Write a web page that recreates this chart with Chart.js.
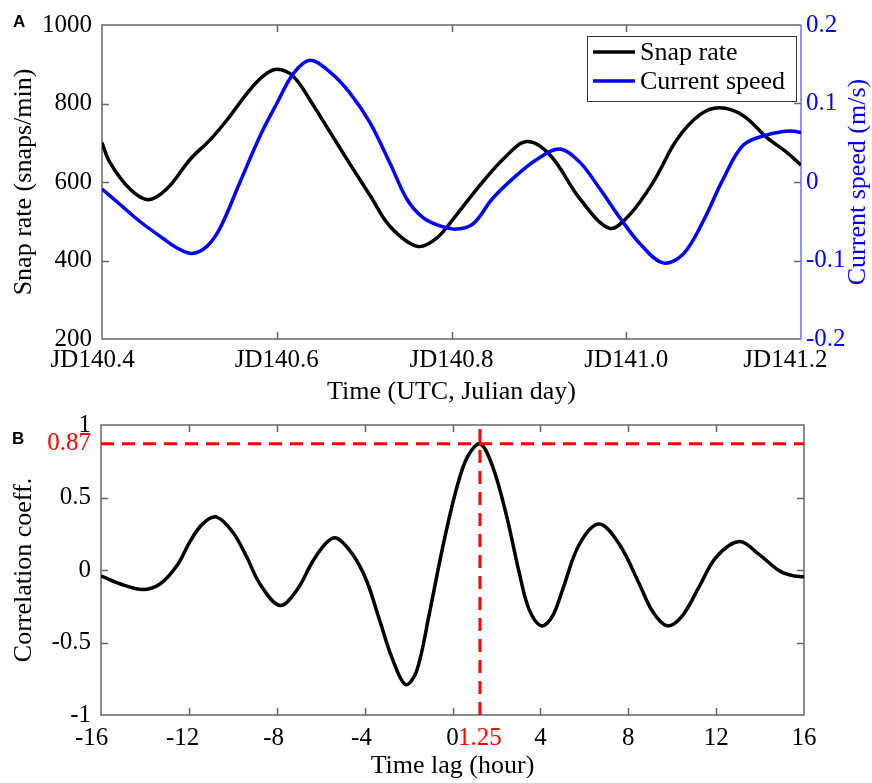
<!DOCTYPE html>
<html>
<head>
<meta charset="utf-8">
<title>Snap rate vs current speed</title>
<script src="https://cdn.jsdelivr.net/npm/chart.js@4.4.1/dist/chart.umd.min.js"></script>
<style>
  html, body { margin: 0; padding: 0; background: #fff; }
  #wrap { position: relative; width: 872px; height: 783px; overflow: hidden; }
  canvas { position: absolute; left: 0; }
  #chart-a { top: 0; }
  #chart-b { top: 400px; }
  .tag { position: absolute; font: bold 17px "Liberation Sans", Arial, sans-serif; line-height: 17px; }
</style>
</head>
<body>
<div id="wrap">
  <canvas id="chart-a" width="872" height="410"></canvas>
  <canvas id="chart-b" width="872" height="383"></canvas>
  <div class="tag" style="left:13px; top:13px;">A</div>
  <div class="tag" style="left:12px; top:430px;">B</div>
</div>
<script>
"use strict";
{
  // panel A : snap rate (left axis) and current speed (right axis)
  const TIME_SNAP = [
    140.400, 140.409, 140.432, 140.453, 140.474, 140.501, 140.524, 140.543,
    140.566, 140.584, 140.600, 140.619, 140.638, 140.661, 140.684, 140.707,
    140.730, 140.761, 140.783, 140.806, 140.829, 140.859, 140.886, 140.913,
    140.947, 140.981, 141.004, 141.031, 141.058, 141.084, 141.107, 141.134,
    141.161, 141.184, 141.200,
  ];
  const SNAP_RATE = [
    700, 650, 582, 555, 582, 658, 708, 758,
    826, 869, 887, 869, 809, 727, 645, 565,
    486, 436, 457, 517, 582, 658, 703, 668,
    557, 482, 517, 600, 708, 771, 789, 769,
    713, 675, 643,
  ];
  const TIME_CURRENT = [
    140.400, 140.421, 140.443, 140.470, 140.486, 140.503, 140.520, 140.535,
    140.558, 140.581, 140.600, 140.619, 140.638, 140.661, 140.684, 140.707,
    140.730, 140.749, 140.767, 140.787, 140.806, 140.825, 140.847, 140.875,
    140.898, 140.924, 140.947, 140.970, 140.993, 141.016, 141.042, 141.065,
    141.088, 141.111, 141.134, 141.161, 141.187, 141.200,
  ];
  const CURRENT_SPEED = [
    -0.009, -0.029, -0.050, -0.072, -0.084, -0.091, -0.082, -0.059,
    0.000, 0.059, 0.100, 0.138, 0.155, 0.140, 0.113, 0.075,
    0.023, -0.022, -0.045, -0.056, -0.060, -0.053, -0.021, 0.009,
    0.029, 0.042, 0.025, -0.009, -0.046, -0.079, -0.103, -0.092,
    -0.050, 0.004, 0.047, 0.060, 0.065, 0.063,
  ];
  const X_TICKS_A = [140.4, 140.6, 140.8, 141.0, 141.2];
  const Y_TICKS_SNAP = [200, 400, 600, 800, 1000];
  const Y_TICKS_CURRENT = [-0.2, -0.1, 0, 0.1, 0.2];

  // panel B : cross correlation
  const LAG_HOURS = [
    -16.00, -15.14, -14.10, -13.30, -12.50, -11.95, -11.36, -10.73,
    -10.00, -9.36, -8.77, -7.86, -7.09, -6.36, -5.73, -5.27,
    -4.55, -3.91, -3.32, -2.73, -2.14, -1.64, -1.05, -0.45,
    0.18, 0.68, 1.25, 1.82, 2.45, 3.05, 3.50, 4.05,
    4.55, 5.00, 5.77, 6.68, 7.60, 8.50, 9.10, 9.77,
    10.45, 11.23, 12.00, 13.05, 13.95, 14.86, 15.40, 16.00,
  ];
  const CORRELATION = [
    -0.040, -0.095, -0.135, -0.095, 0.040, 0.196, 0.320, 0.365,
    0.260, 0.088, -0.095, -0.245, -0.140, 0.060, 0.190, 0.220,
    0.108, -0.074, -0.345, -0.615, -0.790, -0.700, -0.297, 0.155,
    0.560, 0.780, 0.870, 0.716, 0.380, -0.027, -0.277, -0.385,
    -0.318, -0.140, 0.176, 0.317, 0.176, -0.095, -0.284, -0.385,
    -0.318, -0.115, 0.088, 0.196, 0.108, -0.004, -0.036, -0.047,
  ];
  const PEAK_LAG = 1.25;
  const PEAK_CORR = 0.87;
  const X_TICKS_B = [-16, -12, -8, -4, 0, 4, 8, 12, 16];
  const Y_TICKS_B = [-1, -0.5, 0, 0.5, 1];

  const SERIF = "'Liberation Serif', 'Times New Roman', serif";
  const AXIS_GRAY = "#666666";
  const RIGHT_BLUE = "#6f6fff";
  const RED = "#ff0000";
  const TICK_LEN = 7;

  const toPoints = (xs, ys) => xs.map((x, i) => ({ x: x, y: ys[i] }));

  const tickFont = { family: SERIF, size: 25 };
  const titleFont = { family: SERIF, size: 26, lineHeight: 1.2 };

  // 元図のラベルは少し左寄り、末尾に空白を足してずらす
  const padRight = (s, n) => s + " ".repeat(n);
  const labelA = (v) => {
    const s = "JD" + Number(v).toFixed(1);
    if (v === X_TICKS_A[0]) return padRight(s, 3);
    if (v === X_TICKS_A[X_TICKS_A.length - 1]) return padRight(s, 5);
    return s;
  };
  const labelB = (v) => {
    const s = String(v);
    if (v <= -16) return padRight(s, 3);
    if (v <= -12) return padRight(s, 2);
    if (v < 0) return padRight(s, 1);
    return s;
  };

  // 枠と内向きの目盛り
  function drawInwardTicks(ctx, area, scale, values, side) {
    values.forEach((v) => {
      const p = Math.round(scale.getPixelForValue(v)) + 0.5;
      if (side === "bottom" || side === "top") {
        if (p <= area.left + 1 || p >= area.right - 1) return;
        const y = side === "bottom" ? area.bottom : area.top;
        ctx.moveTo(p, y);
        ctx.lineTo(p, side === "bottom" ? y - TICK_LEN : y + TICK_LEN);
      } else {
        if (p <= area.top + 1 || p >= area.bottom - 1) return;
        const x = side === "left" ? area.left : area.right;
        ctx.moveTo(x, p);
        ctx.lineTo(side === "left" ? x + TICK_LEN : x - TICK_LEN, p);
      }
    });
  }

  const frameA = {
    id: "frameA",
    beforeDatasetsDraw(chart) {
      const { ctx, chartArea: a, scales } = chart;
      ctx.save();
      ctx.lineWidth = 1.5;
      ctx.strokeStyle = AXIS_GRAY;
      ctx.beginPath();
      ctx.moveTo(a.right, a.top);
      ctx.lineTo(a.left, a.top);
      ctx.lineTo(a.left, a.bottom);
      ctx.lineTo(a.right, a.bottom);
      drawInwardTicks(ctx, a, scales.x, X_TICKS_A, "bottom");
      drawInwardTicks(ctx, a, scales.x, X_TICKS_A, "top");
      drawInwardTicks(ctx, a, scales.y, Y_TICKS_SNAP, "left");
      drawInwardTicks(ctx, a, scales.y2, Y_TICKS_CURRENT, "right");
      ctx.stroke();
      ctx.strokeStyle = RIGHT_BLUE;
      ctx.beginPath();
      ctx.moveTo(a.right, a.top);
      ctx.lineTo(a.right, a.bottom);
      ctx.stroke();
      ctx.restore();
    },
    afterDraw(chart) {
      const { ctx, chartArea: a } = chart;
      ctx.save();
      // 右軸タイトル（下から上へ読む）
      ctx.translate(a.right + 57, (a.top + a.bottom) / 2);
      ctx.rotate(-Math.PI / 2);
      ctx.font = "26px " + SERIF;
      ctx.fillStyle = "#0000ff";
      ctx.textAlign = "center";
      ctx.textBaseline = "middle";
      ctx.fillText("Current speed (m/s)", 0, 0);
      ctx.restore();

      // legend box
      const box = { left: a.right - 214, top: a.top + 11, width: 209, height: 65 };
      ctx.save();
      ctx.fillStyle = "#fff";
      ctx.fillRect(box.left, box.top, box.width, box.height);
      ctx.strokeStyle = "#333";
      ctx.lineWidth = 1;
      ctx.strokeRect(box.left + 0.5, box.top + 0.5, box.width, box.height);
      ctx.font = "26px " + SERIF;
      ctx.textBaseline = "middle";
      ctx.fillStyle = "#000";
      chart.data.datasets.forEach((ds, i) => {
        const y = box.top + 16 + i * 29;
        ctx.strokeStyle = ds.borderColor;
        ctx.lineWidth = 3.5;
        ctx.beginPath();
        ctx.moveTo(box.left + 6, y);
        ctx.lineTo(box.left + 48, y);
        ctx.stroke();
        ctx.fillText(ds.label, box.left + 53, y + 1);
      });
      ctx.restore();
    },
  };

  new Chart(document.getElementById("chart-a"), {
    type: "line",
    data: {
      datasets: [
        {
          label: "Snap rate",
          data: toPoints(TIME_SNAP, SNAP_RATE),
          yAxisID: "y",
          borderColor: "#000000",
          borderWidth: 3.5,
          pointRadius: 0,
          tension: 0.35,
          order: 1,
        },
        {
          label: "Current speed",
          data: toPoints(TIME_CURRENT, CURRENT_SPEED),
          yAxisID: "y2",
          borderColor: "#0000ff",
          borderWidth: 3.5,
          pointRadius: 0,
          tension: 0.35,
          order: 0,
        },
      ],
    },
    options: {
      responsive: false,
      animation: false,
      events: [],
      layout: { padding: { top: 21, left: 0, right: 0, bottom: 0 } },
      scales: {
        x: {
          type: "linear",
          min: 140.4,
          max: 141.2,
          afterBuildTicks: (s) => { s.ticks = X_TICKS_A.map((v) => ({ value: v })); },
          afterFit: (s) => { s.height = 71; },
          grid: { display: false, drawTicks: false },
          border: { display: false },
          ticks: {
            autoSkip: false,
            maxRotation: 0,
            padding: 6,
            color: "#000",
            font: tickFont,
            callback: labelA,
          },
          title: {
            display: true,
            text: "Time (UTC, Julian day)",
            color: "#000",
            font: titleFont,
            padding: { top: 0, bottom: 2 },
          },
        },
        y: {
          type: "linear",
          position: "left",
          min: 200,
          max: 1000,
          afterBuildTicks: (s) => { s.ticks = Y_TICKS_SNAP.map((v) => ({ value: v })); },
          afterFit: (s) => { s.width = 102; },
          grid: { display: false, drawTicks: false },
          border: { display: false },
          ticks: { padding: 10, color: "#000", font: tickFont, callback: (v) => String(v) },
          title: {
            display: true,
            text: "Snap rate (snaps/min)",
            color: "#000",
            font: titleFont,
            padding: { top: 9, bottom: 0 },
          },
        },
        y2: {
          type: "linear",
          position: "right",
          min: -0.2,
          max: 0.2,
          afterBuildTicks: (s) => { s.ticks = Y_TICKS_CURRENT.map((v) => ({ value: v })); },
          afterFit: (s) => { s.width = 71; },
          grid: { display: false, drawTicks: false },
          border: { display: false },
          ticks: { padding: 5, color: "#0000ff", font: tickFont, callback: (v) => String(v) },
        },
      },
      plugins: {
        legend: { display: false },
        tooltip: { enabled: false },
      },
    },
    plugins: [frameA],
  });

  const frameB = {
    id: "frameB",
    beforeDatasetsDraw(chart) {
      const { ctx, chartArea: a, scales } = chart;
      ctx.save();
      ctx.lineWidth = 1.5;
      ctx.strokeStyle = AXIS_GRAY;
      ctx.beginPath();
      ctx.rect(a.left, a.top, a.right - a.left, a.bottom - a.top);
      drawInwardTicks(ctx, a, scales.x, X_TICKS_B, "bottom");
      drawInwardTicks(ctx, a, scales.x, X_TICKS_B, "top");
      drawInwardTicks(ctx, a, scales.y, Y_TICKS_B, "left");
      drawInwardTicks(ctx, a, scales.y, Y_TICKS_B, "right");
      ctx.stroke();
      ctx.restore();
    },
  };

  new Chart(document.getElementById("chart-b"), {
    type: "line",
    data: {
      datasets: [
        {
          label: "Correlation",
          data: toPoints(LAG_HOURS, CORRELATION),
          borderColor: "#000000",
          borderWidth: 3.5,
          pointRadius: 0,
          tension: 0.35,
          order: 2,
        },
        {
          label: "max coeff",
          data: [{ x: X_TICKS_B[0], y: PEAK_CORR }, { x: X_TICKS_B[X_TICKS_B.length - 1], y: PEAK_CORR }],
          borderColor: RED,
          borderWidth: 3,
          borderDash: [13, 8],
          pointRadius: 0,
          order: 1,
        },
        {
          label: "lag at max",
          data: [{ x: PEAK_LAG, y: Y_TICKS_B[0] }, { x: PEAK_LAG, y: Y_TICKS_B[Y_TICKS_B.length - 1] }],
          borderColor: RED,
          borderWidth: 3,
          borderDash: [13, 8],
          pointRadius: 0,
          order: 0,
        },
      ],
    },
    options: {
      responsive: false,
      animation: false,
      events: [],
      layout: { padding: { top: 19, left: 0, right: 68, bottom: 0 } },
      scales: {
        x: {
          type: "linear",
          min: -16,
          max: 16,
          afterBuildTicks: (s) => {
            s.ticks = X_TICKS_B.concat([PEAK_LAG]).sort((p, q) => p - q).map((v) => ({ value: v }));
          },
          afterFit: (s) => { s.height = 68; },
          grid: { display: false, drawTicks: false },
          border: { display: false },
          ticks: {
            autoSkip: false,
            maxRotation: 0,
            padding: 8,
            font: tickFont,
            color: (c) => (c.tick && c.tick.value === PEAK_LAG ? RED : "#000"),
            callback: labelB,
          },
          title: {
            display: true,
            text: "Time lag (hour)",
            color: "#000",
            font: titleFont,
            padding: { top: 0, bottom: 1 },
          },
        },
        y: {
          type: "linear",
          min: -1,
          max: 1,
          afterBuildTicks: (s) => {
            s.ticks = Y_TICKS_B.concat([PEAK_CORR]).sort((p, q) => p - q).map((v) => ({ value: v }));
          },
          afterFit: (s) => { s.width = 101; },
          grid: { display: false, drawTicks: false },
          border: { display: false },
          ticks: {
            autoSkip: false,
            padding: 10,
            font: tickFont,
            color: (c) => (c.tick && c.tick.value === PEAK_CORR ? RED : "#000"),
            callback: (v) => String(v),
          },
          title: {
            display: true,
            text: "Correlation coeff.",
            color: "#000",
            font: titleFont,
            padding: { top: 9, bottom: 0 },
          },
        },
      },
      plugins: {
        legend: { display: false },
        tooltip: { enabled: false },
      },
    },
    plugins: [frameB],
  });
}
</script>
</body>
</html>
